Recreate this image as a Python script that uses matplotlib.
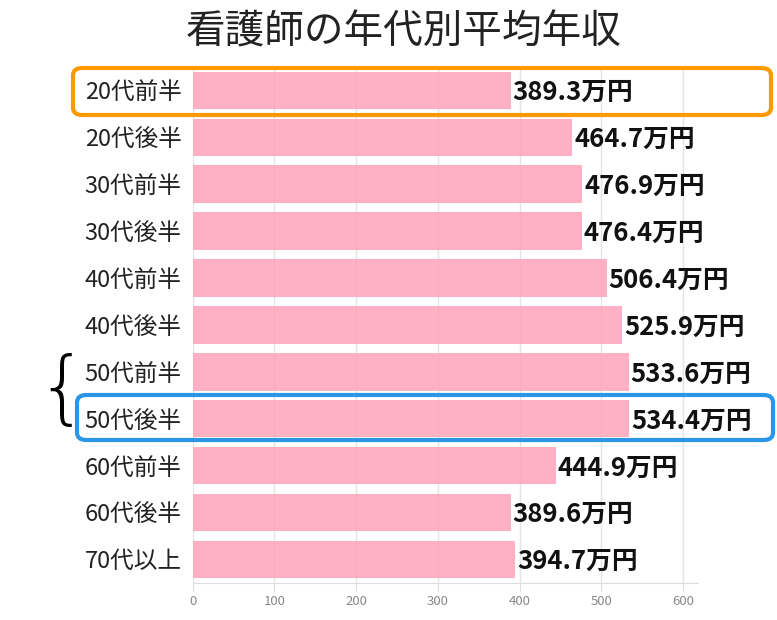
import matplotlib.pyplot as plt
from matplotlib.patches import FancyBboxPatch

plt.rcParams['font.family'] = ['Noto Sans CJK JP', 'DejaVu Sans']

categories = ['20代前半', '20代後半', '30代前半', '30代後半', '40代前半', '40代後半',
              '50代前半', '50代後半', '60代前半', '60代後半', '70代以上']
salaries = [389.3, 464.7, 476.9, 476.4, 506.4, 525.9, 533.6, 534.4, 444.9, 389.6, 394.7]
xticks = [0, 100, 200, 300, 400, 500, 600]

fig = plt.figure(figsize=(7.77, 6.2), dpi=100)
ax = fig.add_axes([0.248, 0.06, 0.65, 0.832])

y = list(range(len(categories)))
ax.barh(y, salaries, height=0.8, color='#ffa3ba', alpha=0.85, zorder=2)
for yi, v in zip(y, salaries):
    ax.text(v + 2, yi + 0.05, f'{v:.1f}万円', va='center', ha='left',
            fontsize=18.5, fontweight='bold', color='#111111', zorder=3)

ax.set_xlim(0, 618)
ax.set_ylim(len(categories) - 0.5, -0.5)
ax.set_yticks(y)
ax.set_yticklabels(categories, fontsize=17, color='#222222')
ax.set_xticks(xticks)
ax.set_xticklabels([str(t) for t in xticks], fontsize=9.5, color='#888888')
ax.tick_params(axis='y', length=0, pad=8)
ax.tick_params(axis='x', length=6, color='#dddddd', pad=3)
ax.grid(axis='x', color='#e4e4e4', linewidth=1, zorder=1)
for s in ['top', 'right']:
    ax.spines[s].set_visible(False)
ax.spines['left'].set_visible(False)
ax.spines['bottom'].set_color('#dddddd')

fig.text(0.52, 0.948, '看護師の年代別平均年収', ha='center', va='center',
         fontsize=28.5, color='#222222')

# highlight boxes (figure pixel coords)
def box(x0, y0, x1, y1, color):
    p = FancyBboxPatch((x0 / 777, 1 - y1 / 620), (x1 - x0) / 777, (y1 - y0) / 620,
                       boxstyle='round,pad=0,rounding_size=0.012',
                       transform=fig.transFigure, fill=False,
                       edgecolor=color, linewidth=3, zorder=10)
    fig.patches.append(p)

box(73, 68, 771, 115, '#ff9900')
box(77, 395, 773, 440, '#2b95e8')

fig.text(62 / 777, 1 - 392 / 620, '{', fontsize=58, ha='center', va='center',
         color='black', family='DejaVu Sans', fontweight='light')

fig.savefig('out.png', dpi=100)
